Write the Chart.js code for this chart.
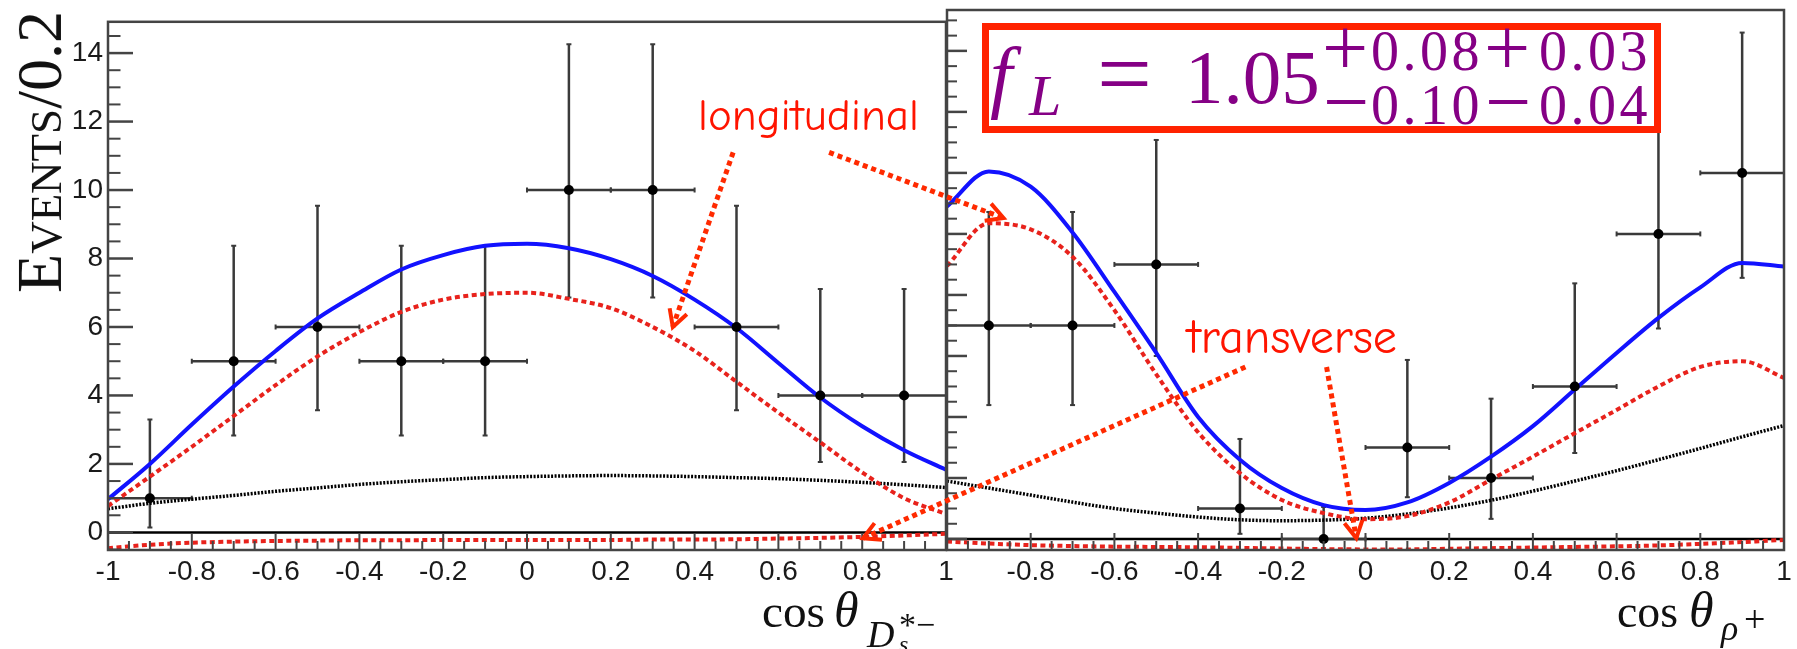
<!DOCTYPE html>
<html>
<head>
<meta charset="utf-8">
<script src="https://cdn.jsdelivr.net/npm/chart.js@4.4.0/dist/chart.umd.min.js"></script>
<style>
  html, body { margin: 0; padding: 0; background: #fff; }
  #wrap { position: relative; width: 1797px; height: 649px; overflow: hidden; background: #fff; }
  #wrap canvas { position: absolute; left: 0; top: 0; }
  .t { position: absolute; white-space: nowrap; line-height: 1; }
  #box { position: absolute; left: 982px; top: 23px; width: 679px; height: 110px;
         box-sizing: border-box; border: 7px solid #ff2200; background: #fff; }
</style>
</head>
<body>
<div id="wrap">
  <canvas id="left" width="1797" height="649"></canvas>
  <canvas id="right" width="1797" height="649"></canvas>
  <div id="box"></div>
</div>
<script>
// bins of cos(theta), width 0.2
const binCenters = [-0.9, -0.7, -0.5, -0.3, -0.1, 0.1, 0.3, 0.5, 0.7, 0.9];
const binHalf = 0.1;

// left panel: cos theta(Ds*-)
const leftCounts = [1, 5, 6, 5, 5, 10, 10, 6, 4, 4];
const leftErrLo = [0.14, 2.83, 3.57, 2.83, 2.83, 6.86, 6.86, 3.57, 2.06, 2.06];
const leftErrHi = [3.3, 8.37, 9.54, 8.37, 8.37, 14.26, 14.26, 9.54, 7.11, 7.11];

// right panel: cos theta(rho+)
const rightCounts = [7, 7, 9, 1, 0, 3, 2, 5, 10, 12];
const rightErrLo = [4.39, 4.39, 6.0, 0.17, 0, 1.37, 0.66, 2.82, 6.9, 8.56];
const rightErrHi = [10.72, 10.72, 13.08, 3.28, 1.05, 5.87, 4.6, 8.38, 14.3, 16.6];

// fit curves sampled along cos(theta)
const curveX = [-1, -0.9, -0.8, -0.7, -0.6, -0.5, -0.4, -0.3, -0.2, -0.1, 0,
                0.1, 0.2, 0.3, 0.4, 0.5, 0.6, 0.7, 0.8, 0.9, 1];
const leftTotal = [0.97, 2.0, 3.15, 4.26, 5.3, 6.25, 7.0, 7.68, 8.1, 8.37, 8.43,
                   8.3, 7.98, 7.49, 6.8, 5.97, 4.95, 3.94, 3.1, 2.4, 1.83];
const leftLong = [0.77, 1.63, 2.5, 3.4, 4.3, 5.14, 5.85, 6.44, 6.8, 6.96, 7.0,
                  6.82, 6.55, 6.0, 5.3, 4.4, 3.5, 2.63, 1.75, 1.0, 0.54];
const leftBkg = [0.69, 0.85, 0.97, 1.08, 1.2, 1.3, 1.4, 1.48, 1.54, 1.6, 1.63,
                 1.65, 1.66, 1.65, 1.63, 1.6, 1.57, 1.52, 1.46, 1.39, 1.31];
const leftTrans = [-0.46, -0.36, -0.3, -0.27, -0.25, -0.24, -0.23, -0.23, -0.22, -0.22, -0.22,
                   -0.22, -0.22, -0.21, -0.21, -0.2, -0.18, -0.16, -0.13, -0.09, -0.04];

const rightTotal = [10.9, 12.05, 11.55, 10.05, 8.1, 6.1, 4.0, 2.6, 1.67, 1.11, 0.95,
                    1.2, 1.84, 2.7, 3.7, 4.9, 6.1, 7.25, 8.25, 9.05, 8.93];
const rightLong = [8.95, 10.35, 10.15, 9.25, 7.5, 5.4, 3.5, 2.16, 1.28, 0.85, 0.65,
                   0.75, 1.2, 1.95, 2.7, 3.47, 4.23, 5.0, 5.64, 5.83, 5.28];
const rightBkg = [1.9, 1.67, 1.44, 1.21, 1.0, 0.85, 0.72, 0.63, 0.6, 0.62, 0.68,
                  0.82, 1.02, 1.27, 1.57, 1.9, 2.24, 2.6, 2.97, 3.35, 3.72];
const rightTrans = [-0.08, -0.15, -0.2, -0.23, -0.25, -0.26, -0.27, -0.29, -0.31, -0.33, -0.34,
                    -0.34, -0.32, -0.3, -0.28, -0.26, -0.24, -0.21, -0.16, -0.1, -0.03];

// axis ticks
const xTicks = [-1, -0.8, -0.6, -0.4, -0.2, 0, 0.2, 0.4, 0.6, 0.8, 1];
const leftYTicks = [0, 2, 4, 6, 8, 10, 12, 14];
const rightYTicks = [0, 2, 4, 6, 8, 10, 12, 14, 16];

// annotation arrows: [panel, x, y] -> [panel, x, y] in data units
const arrows = [
    ["L", 0.492, 11.1, "L", 0.348, 6.0],
    ["L", 0.721, 11.1, "R", -0.865, 10.52],
    ["R", -0.287, 5.64, "L", 0.802, -0.17],
    ["R", -0.093, 5.64, "R", -0.022, 0.03],
];

const RED_DOT = "#e8221c";
const BAR = "#3a3a3a";

const pts = (xs, ys) => xs.map((x, i) => ({ x, y: ys[i] }));
const vBars = (lo, hi) =>
    binCenters.flatMap((x, i) => [{ x, y: lo[i] }, { x, y: hi[i] }, { x, y: null }]);
const hBars = (ys) =>
    binCenters.flatMap((x, i) => [
        { x: x - binHalf, y: ys[i] },
        { x: x + binHalf, y: ys[i] },
        { x, y: null },
    ]);

const make_datasets = (counts, lo, hi, total, lng, bkg, trans) => [
    { data: pts(binCenters, counts), showLine: false, pointRadius: 5,
      pointBackgroundColor: "#000", pointBorderWidth: 0 },
    { data: pts(curveX, total), borderColor: "#1212ff", borderWidth: 4,
      pointRadius: 0, cubicInterpolationMode: "monotone" },
    { data: pts(curveX, lng), borderColor: RED_DOT, borderWidth: 4, borderDash: [5, 3.5],
      pointRadius: 0, cubicInterpolationMode: "monotone" },
    { data: pts(curveX, bkg), borderColor: "#000", borderWidth: 3.5, borderDash: [2, 1.5],
      pointRadius: 0, cubicInterpolationMode: "monotone" },
    { data: vBars(lo, hi), borderColor: BAR, borderWidth: 2.5, spanGaps: false,
      pointStyle: "line", pointRadius: 2.5, pointBorderColor: BAR, pointBorderWidth: 2 },
    { data: hBars(counts), borderColor: BAR, borderWidth: 2.5, spanGaps: false,
      pointStyle: "line", pointRotation: 90, pointRadius: 2.5, pointBorderColor: BAR, pointBorderWidth: 2 },
    { data: pts(curveX, trans), borderColor: RED_DOT, borderWidth: 4, borderDash: [5, 3.5],
      pointRadius: 0, cubicInterpolationMode: "monotone" },
    { data: [{ x: -1, y: 0 }, { x: 1, y: 0 }], borderColor: "#000", borderWidth: 2.5, pointRadius: 0 },
];

// ROOT style frame with ticks pointing inwards
const root_axes = (yMajor, yMax, yLen) => ({
    id: "rootAxes",
    afterDatasetsDraw(chart) {
        const { ctx, chartArea: a, scales: { x, y } } = chart;
        ctx.save();
        ctx.strokeStyle = "#444";
        ctx.setLineDash([]);
        const line = (x0, y0, x1, y1, w) => {
            ctx.lineWidth = w;
            ctx.beginPath();
            ctx.moveTo(x0, y0);
            ctx.lineTo(x1, y1);
            ctx.stroke();
        };
        for (let k = -20; k <= 20; k++) {
            const px = x.getPixelForValue(k / 20);
            const len = k % 4 === 0 ? 17 : 9;
            line(px, a.bottom, px, a.bottom - len, 2);
        }
        for (let k = -1; k * 0.5 <= yMax; k++) {
            const v = k * 0.5;
            const py = y.getPixelForValue(v);
            if (py < a.top || py > a.bottom) continue;
            const major = yMajor.includes(v);
            line(a.left, py, a.left + (major ? yLen : yLen / 2), py, major ? 2.5 : 2);
        }
        ctx.lineWidth = 2.5;
        ctx.strokeRect(a.left, a.top, a.width, a.height);
        ctx.restore();
    },
});

const tick_font = { family: "'Liberation Sans', Arial, sans-serif", size: 28 };

const base_options = (padding, yMin, yMax, yTicks, showY, xLabel) => ({
    responsive: false,
    animation: false,
    devicePixelRatio: 1,
    layout: { padding },
    plugins: { legend: { display: false }, tooltip: { enabled: false } },
    scales: {
        x: {
            type: "linear", min: -1, max: 1,
            grid: { display: false, drawTicks: false },
            border: { display: false },
            afterBuildTicks: (s) => { s.ticks = xTicks.map((v) => ({ value: v })); },
            afterFit: (s) => { s.height = 99; },
            ticks: { padding: 5, color: "#1a1a1a", font: tick_font, maxRotation: 0,
                     autoSkip: false, callback: xLabel },
        },
        y: {
            type: "linear", min: yMin, max: yMax, display: showY,
            grid: { display: false, drawTicks: false },
            border: { display: false },
            afterBuildTicks: (s) => { s.ticks = yTicks.map((v) => ({ value: v })); },
            afterFit: (s) => { if (showY) s.width = 108; },
            ticks: { padding: 5, color: "#1a1a1a", font: tick_font },
        },
    },
});

const leftChart = new Chart(document.getElementById("left"), {
    type: "line",
    data: { datasets: make_datasets(leftCounts, leftErrLo, leftErrHi, leftTotal, leftLong, leftBkg, leftTrans) },
    options: base_options({ left: 0, top: 10, right: 851, bottom: 0 }, -0.514, 14.914,
                          leftYTicks, true, (v) => String(v)),
    plugins: [root_axes(leftYTicks, 14.914, 25)],
});

const arrow_plugin = {
    id: "arrows",
    afterDatasetsDraw(chart) {
        const ctx = chart.ctx;
        const conv = (p, x, y) => {
            const c = p === "L" ? leftChart : chart;
            return [c.scales.x.getPixelForValue(x), c.scales.y.getPixelForValue(y)];
        };
        ctx.save();
        ctx.strokeStyle = "#ff2a00";
        arrows.forEach((a) => {
            const [x0, y0] = conv(a[0], a[1], a[2]);
            const [x1, y1] = conv(a[3], a[4], a[5]);
            ctx.lineWidth = 5;
            ctx.setLineDash([5, 4]);
            ctx.beginPath();
            ctx.moveTo(x0, y0);
            ctx.lineTo(x1, y1);
            ctx.stroke();
            const ang = Math.atan2(y1 - y0, x1 - x0);
            ctx.setLineDash([]);
            ctx.lineWidth = 4;
            ctx.beginPath();
            ctx.moveTo(x1 - 19 * Math.cos(ang - 0.5), y1 - 19 * Math.sin(ang - 0.5));
            ctx.lineTo(x1, y1);
            ctx.lineTo(x1 - 19 * Math.cos(ang + 0.5), y1 - 19 * Math.sin(ang + 0.5));
            ctx.stroke();
        });
        ctx.restore();
    },
};

const rightChart = new Chart(document.getElementById("right"), {
    type: "line",
    data: { datasets: make_datasets(rightCounts, rightErrLo, rightErrHi, rightTotal, rightLong, rightBkg, rightTrans) },
    options: base_options({ left: 947, top: 10, right: 13, bottom: 0 }, -0.36, 17.34,
                          rightYTicks, false, (v) => (v === -1 ? "" : String(v))),
    plugins: [root_axes(rightYTicks, 17.34, 20), arrow_plugin],
});

// text overlays, placed by baseline
const wrap = document.getElementById("wrap");
const put = (html, x, base, size, family, opts = {}) => {
    const d = document.createElement("div");
    d.className = "t";
    d.style.left = x + "px";
    d.style.top = "0px";
    d.style.fontFamily = family;
    d.style.fontSize = size + "px";
    d.style.fontStyle = opts.italic ? "italic" : "normal";
    d.style.color = opts.color || "#111";
    if (opts.spacing) d.style.letterSpacing = opts.spacing + "px";
    d.innerHTML = html;
    const m = document.createElement("span");
    m.style.display = "inline-block";
    m.style.width = "0px";
    m.style.height = "0px";
    d.appendChild(m);
    wrap.appendChild(d);
    if (opts.width) {
        const w = d.getBoundingClientRect().width;
        d.style.fontSize = (size * opts.width) / w + "px";
    }
    d.style.top = base - m.offsetTop + "px";
    return d;
};

const SERIF = "'Liberation Serif', 'Times New Roman', serif";
const HAND = "'Comic Sans MS', 'Comic Neue', Lato, sans-serif";
const PURPLE = "#850085";

// y-axis title (rotated)
const yt = document.createElement("div");
yt.className = "t";
yt.style.fontFamily = SERIF;
yt.style.fontSize = "58px";
yt.style.fontVariant = "small-caps";
yt.style.color = "#111";
yt.textContent = "Events/0.2";
wrap.appendChild(yt);
const ytw = yt.getBoundingClientRect().width;
yt.style.fontSize = (58 * 283) / ytw + "px";
yt.style.left = "40px";
yt.style.top = "152px";
yt.style.transform = "translate(-50%, -50%) rotate(-90deg)";

// x-axis titles
put("cos", 762, 627, 50, SERIF, { width: 63 });
put("θ", 834, 627, 50, SERIF, { italic: true });
put("D", 867, 647, 38, SERIF, { italic: true });
put("s", 899, 652, 24, SERIF, { italic: true });
put("*−", 899, 636, 34, SERIF);

put("cos", 1617, 627, 50, SERIF, { width: 61 });
put("θ", 1689, 627, 50, SERIF, { italic: true });
put("ρ", 1721, 640, 36, SERIF, { italic: true });
put("+", 1744, 632, 38, SERIF);

// annotations
put("longitudinal", 698, 130, 44, HAND, { color: "#ff1400", width: 221 });
put("transverse", 1187, 353, 44, HAND, { color: "#ff1400", width: 210 });

// fitted longitudinal fraction
put("f", 990, 103, 80, SERIF, { italic: true, color: PURPLE });
put("L", 1029, 115, 58, SERIF, { italic: true, color: PURPLE });
put("=", 1097, 106, 90, SERIF, { color: PURPLE, width: 55 });
put("1.05", 1185, 103, 77, SERIF, { color: PURPLE });
put("+", 1322, 75, 82, SERIF, { color: PURPLE });
put("0.08", 1371, 70, 56, SERIF, { color: PURPLE, spacing: 3.5 });
put("+", 1484, 75, 82, SERIF, { color: PURPLE });
put("0.03", 1539, 70, 56, SERIF, { color: PURPLE, spacing: 3.5 });
put("−", 1323, 129, 82, SERIF, { color: PURPLE });
put("0.10", 1371, 124, 56, SERIF, { color: PURPLE, spacing: 3.5 });
put("−", 1485, 129, 82, SERIF, { color: PURPLE });
put("0.04", 1539, 124, 56, SERIF, { color: PURPLE, spacing: 3.5 });
</script>
</body>
</html>
